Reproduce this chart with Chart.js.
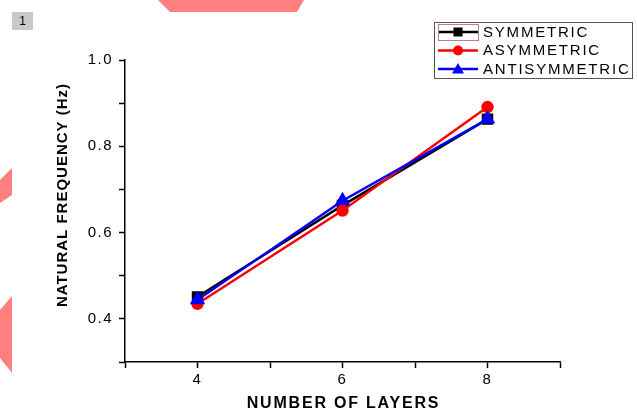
<!DOCTYPE html>
<html>
<head>
<meta charset="utf-8">
<script src="https://cdn.jsdelivr.net/npm/chart.js@4/dist/chart.umd.min.js"></script>
<style>
html,body{margin:0;padding:0;background:#fff;}
canvas{display:block;}
</style>
</head>
<body>
<canvas id="c" width="637" height="415"></canvas>
<script>
// ---- data ----
const layers = [4, 6, 8];
const seriesNames = ['SYMMETRIC', 'ASYMMETRIC', 'ANTISYMMETRIC'];
const symmetric = [0.451, 0.663, 0.863];
const asymmetric = [0.435, 0.651, 0.891];
const antisymmetric = [0.444, 0.674, 0.863];
const xTickLabels = [4, 6, 8];
const yTickLabels = [0.4, 0.6, 0.8, 1.0];
const xTitle = 'NUMBER OF LAYERS';
const yTitle = 'NATURAL FREQUENCY (Hz)';
const panelLabel = '1';

const FONT = '"Liberation Sans", Arial, sans-serif';
const toPts = (vals) => layers.map((x, i) => ({x: x, y: vals[i]}));

const decor = {
  id: 'decor',
  beforeDraw(chart) {
    const ctx = chart.ctx;
    ctx.save();
    ctx.fillStyle = '#fff';
    ctx.fillRect(0, 0, chart.width, chart.height);
    ctx.fillStyle = '#ff7f7f';
    const polys = [
      [[158,0],[304,0],[297,12],[170,12]],
      [[0,180],[12,168],[12,195],[0,203]],
      [[0,310],[12,296],[12,373],[0,358]]
    ];
    polys.forEach(p => {
      ctx.beginPath();
      ctx.moveTo(p[0][0], p[0][1]);
      for (let i = 1; i < p.length; i++) ctx.lineTo(p[i][0], p[i][1]);
      ctx.closePath();
      ctx.fill();
    });
    // panel label
    ctx.fillStyle = '#c9c9c9';
    ctx.fillRect(12, 12, 21, 18);
    ctx.fillStyle = '#000';
    ctx.font = '12px ' + FONT;
    ctx.textAlign = 'center';
    ctx.textBaseline = 'middle';
    ctx.fillText(panelLabel, 22.5, 21.5);
    ctx.restore();
    chart.ctx.letterSpacing = '1.5px';
  },
  afterDraw(chart) {
    const ctx = chart.ctx;
    const area = chart.chartArea;
    ctx.save();
    // axis titles
    ctx.fillStyle = '#000';
    ctx.textAlign = 'center';
    ctx.textBaseline = 'middle';
    ctx.font = 'bold 16px ' + FONT;
    ctx.letterSpacing = '1.8px';
    ctx.fillText(xTitle, (area.left + area.right) / 2 + 1, 404);
    ctx.translate(63, 195);
    ctx.rotate(-Math.PI / 2);
    ctx.font = 'bold 15px ' + FONT;
    ctx.letterSpacing = '1px';
    ctx.fillText(yTitle, 0, 0);
    ctx.restore();

    // legend
    ctx.save();
    ctx.strokeStyle = '#555';
    ctx.lineWidth = 1;
    ctx.strokeRect(434.5, 22.5, 198, 56);
    const rows = [32, 50.5, 69];
    chart.data.datasets.forEach((ds, i) => {
      const y = rows[i];
      ctx.strokeStyle = ds.borderColor;
      ctx.lineWidth = 2.4;
      ctx.beginPath();
      ctx.moveTo(438, y);
      ctx.lineTo(478, y);
      ctx.stroke();
      ctx.fillStyle = ds.borderColor;
      ctx.beginPath();
      if (ds.pointStyle === 'rect') {
        ctx.rect(453.5, y - 4.5, 9, 9);
      } else if (ds.pointStyle === 'circle') {
        ctx.arc(458, y, 5, 0, Math.PI * 2);
      } else {
        ctx.moveTo(458, y - 6);
        ctx.lineTo(464, y + 4.5);
        ctx.lineTo(452, y + 4.5);
        ctx.closePath();
      }
      ctx.fill();
      ctx.fillStyle = '#000';
      ctx.font = '15px ' + FONT;
      ctx.letterSpacing = '1.8px';
      ctx.textAlign = 'left';
      ctx.textBaseline = 'middle';
      ctx.fillText(ds.label, 483, y + 0.5);
    });
    ctx.strokeStyle = '#c08080';
    ctx.lineWidth = 1;
    ctx.strokeRect(438.5, 24.5, 40, 16);
    ctx.restore();
  }
};

new Chart(document.getElementById('c'), {
  type: 'line',
  data: {
    datasets: [
      {label: seriesNames[0], data: toPts(symmetric), borderColor: '#000000', backgroundColor: '#000000',
       pointStyle: 'rect', pointRadius: 6.4, borderWidth: 2.4, order: 2},
      {label: seriesNames[1], data: toPts(asymmetric), borderColor: '#ff0000', backgroundColor: '#ff0000',
       pointStyle: 'circle', pointRadius: 5, borderWidth: 2.4, order: 1},
      {label: seriesNames[2], data: toPts(antisymmetric), borderColor: '#0000ff', backgroundColor: '#0000ff',
       pointStyle: 'triangle', pointRadius: 6.5, borderWidth: 2.4, order: 0}
    ]
  },
  options: {
    responsive: false,
    animation: false,
    events: [],
    layout: {padding: {left: 0, right: 77, top: 60, bottom: 0}},
    plugins: {legend: {display: false}, tooltip: {enabled: false}},
    elements: {point: {borderWidth: 0}, line: {tension: 0}},
    scales: {
      x: {
        type: 'linear', min: 3, max: 9,
        afterFit(s) { s.height = 53; },
        grid: {drawOnChartArea: false, drawTicks: true, tickLength: 6, tickColor: '#000', tickWidth: 1.5},
        border: {display: true, color: '#000', width: 1.5},
        ticks: {
          stepSize: 1, color: '#000', padding: 3,
          font: {family: FONT, size: 15},
          maxRotation: 0, autoSkip: false,
          callback: (v) => xTickLabels.includes(v) ? String(v) : ''
        }
      },
      y: {
        type: 'linear', min: 0.3, max: 1.0,
        afterFit(s) { s.width = 125; },
        grid: {drawOnChartArea: false, drawTicks: true, tickLength: 6, tickColor: '#000', tickWidth: 1.5},
        border: {display: true, color: '#000', width: 1.5},
        ticks: {
          stepSize: 0.1, color: '#000', padding: 6,
          font: {family: FONT, size: 15},
          autoSkip: false,
          callback: (v) => {
            const r = Math.round(v * 10) / 10;
            return yTickLabels.some(t => Math.abs(t - r) < 1e-6) ? r.toFixed(1) : '';
          }
        }
      }
    }
  },
  plugins: [decor]
});
</script>
</body>
</html>
